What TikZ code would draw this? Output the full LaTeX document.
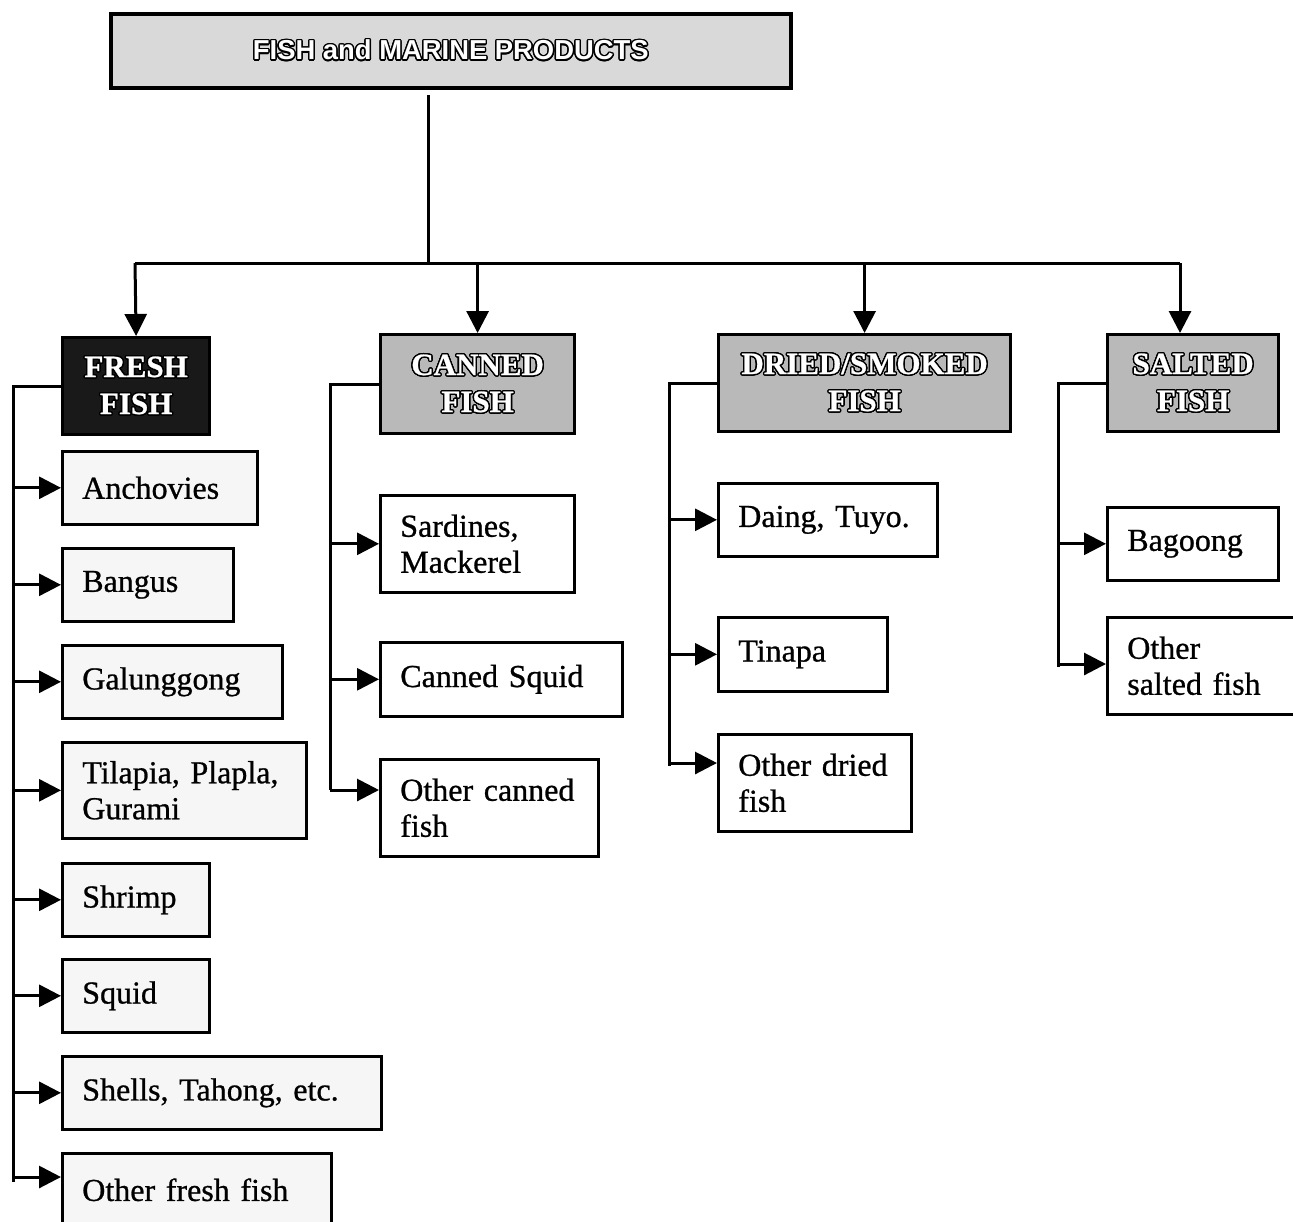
\documentclass[tikz,border=0pt]{standalone}
\usepackage{fontspec}
\setmainfont[WordSpace=0.75, FakeBold=0.8]{Liberation Serif}
\newfontfamily\arialfont{Liberation Sans}
\usepackage{contour}
\contourlength{0.7pt}
\usetikzlibrary{arrows.meta,positioning}

\newcommand{\hdtext}[1]{\contour{black}{#1}}

\tikzset{
  titlebox/.style={draw, line width=1.8pt, fill=gray!30, anchor=north west,
    minimum width=340pt, minimum height=37pt, text=white,
    font=\arialfont\bfseries\fontsize{13.7}{16}\selectfont},
  catbox/.style={draw, line width=1.6pt, fill=gray!55, anchor=north west,
    align=center, inner sep=0pt, text=white,
    font=\bfseries\fontsize{15.5}{18.5}\selectfont},
  leaf/.style={draw, line width=1.3pt, fill=white, anchor=north west,
    align=left, inner xsep=10pt, inner ysep=0pt, minimum height=36.5pt,
    font=\fontsize{16}{18}\selectfont},
  freshleaf/.style={leaf, fill=gray!7},
  link/.style={line width=1.5pt},
  arr/.style={link, ->},
}

\begin{document}
\begin{tikzpicture}[x=0.5pt, y=-0.5pt, >={Triangle[length=11pt,width=11pt]}]
  \useasboundingbox (0,0) rectangle (1293,1221);
  \clip (0,0) rectangle (1293,1221);

  % --- top of the tree ---
  \node[titlebox] (top) at (109,12) {\hdtext{FISH and MARINE PRODUCTS}};
  \coordinate (trunk) at (428,95);
  \coordinate (busL) at (135,263);
  \coordinate (busR) at (1180,263);

  % --- the four groups ---
  \node[catbox, fill=black!90, minimum width=73.5pt, minimum height=48.5pt]
    (fresh) at (61,336) {\hdtext{FRESH}\\ \hdtext{FISH}};
  \node[catbox, minimum width=97pt, minimum height=49.5pt]
    (canned) at (379,333) {\hdtext{CANNED}\\ \hdtext{FISH}};
  \node[catbox, minimum width=146pt, minimum height=48.5pt]
    (dried) at (717,333) {\hdtext{DRIED/SMOKED}\\ \hdtext{FISH}};
  \node[catbox, minimum width=85.5pt, minimum height=48.5pt]
    (salted) at (1106,333) {\hdtext{SALTED}\\ \hdtext{FISH}};

  \draw[link] (trunk) -- (trunk |- busL);
  \draw[link] (busL) -- (busR);
  \draw[arr] (busL) -- (fresh.north);
  \draw[arr] (canned.north |- busL) -- (canned.north);
  \draw[arr] (dried.north |- busL) -- (dried.north);
  \draw[arr] (busR) -- (busR |- salted.north);

  % --- fresh fish ---
  \node[freshleaf, text width=77.5pt] (anch) at (61,450) {Anchovies};
  \node[freshleaf, text width=65.5pt] (bangus) at (61,547) {Bangus};
  \node[freshleaf, text width=90pt] (galung) at (61,644) {Galunggong};
  \node[freshleaf, text width=102pt, minimum height=48pt] (tilapia) at (61,741)
    {Tilapia, Plapla,\\ Gurami};
  \node[freshleaf, text width=53.5pt] (shrimp) at (61,862) {Shrimp};
  \node[freshleaf, text width=53.5pt] (squid) at (61,958) {Squid};
  \node[freshleaf, text width=139.5pt] (shells) at (61,1055) {Shells, Tahong, etc.};
  \node[freshleaf, text width=114.5pt] (ofresh) at (61,1152) {Other fresh fish};

  \coordinate (fend) at (13,1182);
  \draw[link] (fresh.west) -| (fend);
  \foreach \n in {anch,bangus,galung,tilapia,shrimp,squid,shells}
    \draw[arr] (\n.west -| fend) -- (\n.west);
  \draw[arr] (fend |- 0,1177) -- (ofresh.west |- 0,1177);

  % --- canned fish ---
  \node[leaf, text width=77pt, minimum height=48.5pt] (sardines) at (379,494)
    {Sardines,\\ Mackerel};
  \node[leaf, text width=101pt, minimum height=37pt] (csquid) at (379,641) {Canned Squid};
  \node[leaf, text width=89pt, minimum height=48.5pt] (ocanned) at (379,758)
    {Other canned\\ fish};

  \coordinate (cend) at (330,790);
  \draw[link] (canned.west) -| (cend);
  \foreach \n in {sardines,csquid}
    \draw[arr] (\n.west -| cend) -- (\n.west);
  \draw[arr] (cend) -- (ocanned.west |- cend);

  % --- dried/smoked fish ---
  \node[leaf, text width=89.5pt] (daing) at (717,482) {Daing, Tuyo.};
  \node[leaf, text width=64.5pt, minimum height=37pt] (tinapa) at (717,616) {Tinapa};
  \node[leaf, text width=76.5pt, minimum height=48.5pt] (odried) at (717,733)
    {Other dried\\ fish};

  \coordinate (dend) at (669,766);
  \draw[link] (dried.west) -| (dend);
  \foreach \n in {daing,tinapa}
    \draw[arr] (\n.west -| dend) -- (\n.west);
  \draw[arr] (dend |- 0,763) -- (odried.west |- 0,763);

  % --- salted fish ---
  \node[leaf, text width=65.5pt] (bagoong) at (1106,506) {Bagoong};
  \node[leaf, text width=80pt, minimum height=48.5pt] (osalted) at (1106,616)
    {Other\\ salted fish};

  \coordinate (send) at (1058,667);
  \draw[link] (salted.west) -| (send);
  \draw[arr] (bagoong.west -| send) -- (bagoong.west);
  \draw[arr] (send |- 0,664) -- (osalted.west |- 0,664);
\end{tikzpicture}
\end{document}
